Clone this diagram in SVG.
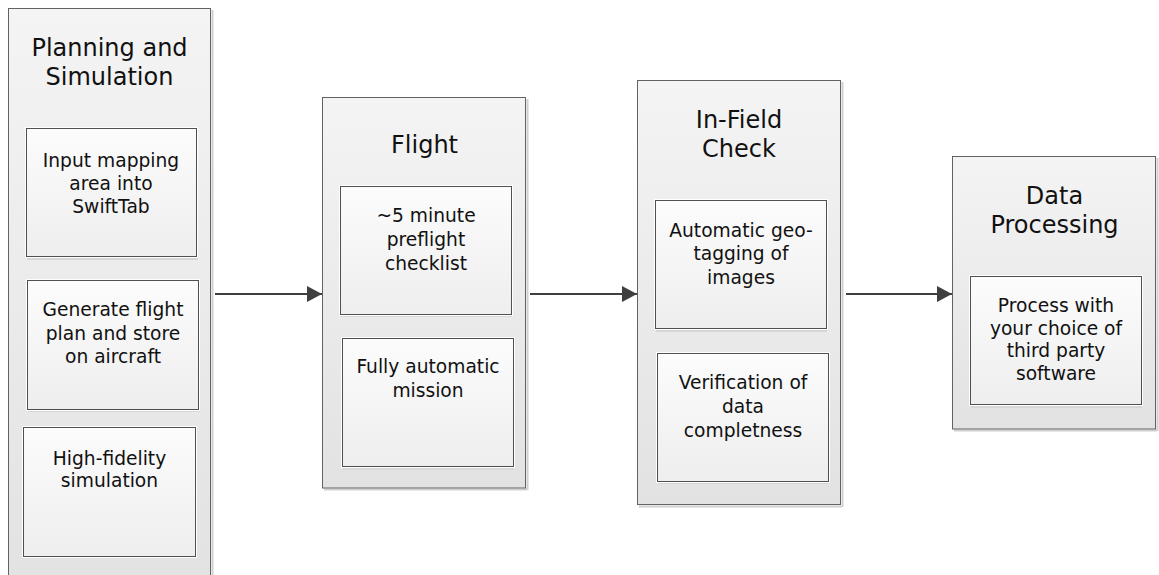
<svg xmlns="http://www.w3.org/2000/svg" width="1159" height="575" viewBox="0 0 1159 575">
  <defs>
    <linearGradient id="outerGrad" x1="0" y1="0" x2="0" y2="1">
      <stop offset="0" stop-color="#f4f4f4"/>
      <stop offset="1" stop-color="#e2e2e2"/>
    </linearGradient>
    <linearGradient id="innerGrad" x1="0" y1="0" x2="0" y2="1">
      <stop offset="0" stop-color="#fcfcfc"/>
      <stop offset="1" stop-color="#eeeeee"/>
    </linearGradient>
    <marker id="arrow" markerWidth="16" markerHeight="16" refX="15" refY="8" orient="auto" markerUnits="userSpaceOnUse">
      <path d="M0,0 L15,8 L0,16 Z" fill="#3f3f3f"/>
    </marker>
  </defs>
  <style>
    .outer { fill: url(#outerGrad); stroke: #626262; stroke-width: 1; }
    .outerShadow { fill: none; stroke: #d0d0d0; stroke-width: 2; }
    .inner { fill: url(#innerGrad); stroke: #505050; stroke-width: 1; }
    .innerHi { fill: none; stroke: #ffffff; stroke-width: 1; }
    .innerShadow { fill: none; stroke: #d6d6d6; stroke-width: 2; }
    .title { font-family: "DejaVu Sans", "Liberation Sans", sans-serif; font-size: 24px; fill: #111111; text-anchor: middle; }
    .label { font-family: "DejaVu Sans", "Liberation Sans", sans-serif; font-size: 18.67px; fill: #111111; text-anchor: middle; }
    .conn { stroke: #3f3f3f; stroke-width: 2; fill: none; }
  </style>

  <g id="planning">
    <path class="outerShadow" d="M212.5,10 V580"/>
    <rect class="outer" x="8.5" y="8.5" width="202" height="580"/>
    <text class="title" x="109.5" y="56">Planning and</text>
    <text class="title" x="109.5" y="85">Simulation</text>
    <g id="p-input">
      <path class="innerShadow" d="M27,259 H198"/>
      <rect class="innerHi" x="25.5" y="127.5" width="172" height="130"/>
      <rect class="inner" x="26.5" y="128.5" width="170" height="128"/>
      <text class="label" x="111" y="166.5">Input mapping</text>
      <text class="label" x="111" y="189.5">area into</text>
      <text class="label" x="111" y="212.5">SwiftTab</text>
    </g>
    <g id="p-generate">
      <path class="innerShadow" d="M28,411 H200"/>
      <rect class="innerHi" x="26.5" y="279.5" width="173" height="131"/>
      <rect class="inner" x="27.5" y="280.5" width="171" height="129"/>
      <text class="label" x="113" y="316">Generate flight</text>
      <text class="label" x="113" y="339.5">plan and store</text>
      <text class="label" x="113" y="363">on aircraft</text>
    </g>
    <g id="p-sim">
      <rect class="innerHi" x="22.5" y="426.5" width="174" height="131"/>
      <rect class="inner" x="23.5" y="427.5" width="172" height="129"/>
      <text class="label" x="109.5" y="464.5">High-fidelity</text>
      <text class="label" x="109.5" y="487">simulation</text>
    </g>
  </g>

  <g id="flight">
    <path class="outerShadow" d="M527.5,99 V490 M324,489.5 H527"/>
    <rect class="outer" x="322.5" y="97.5" width="203" height="390.5"/>
    <text class="title" x="424.5" y="153">Flight</text>
    <g id="f-preflight">
      <path class="innerShadow" d="M341,316 H512"/>
      <rect class="innerHi" x="339.5" y="185.5" width="173" height="130"/>
      <rect class="inner" x="340.5" y="186.5" width="171" height="128"/>
      <text class="label" x="426" y="221.5">~5 minute</text>
      <text class="label" x="426" y="245.5">preflight</text>
      <text class="label" x="426" y="269.5">checklist</text>
    </g>
    <g id="f-mission">
      <path class="innerShadow" d="M343,468.5 H514"/>
      <rect class="innerHi" x="341.5" y="337.5" width="173" height="130"/>
      <rect class="inner" x="342.5" y="338.5" width="171" height="128"/>
      <text class="label" x="428" y="373">Fully automatic</text>
      <text class="label" x="428" y="396.5">mission</text>
    </g>
  </g>

  <g id="infield">
    <path class="outerShadow" d="M842.5,82 V507 M639,506.5 H842"/>
    <rect class="outer" x="637.5" y="80.5" width="203" height="424"/>
    <text class="title" x="739" y="128">In-Field</text>
    <text class="title" x="739" y="157">Check</text>
    <g id="i-geotag">
      <path class="innerShadow" d="M656,331 H827"/>
      <rect class="innerHi" x="654.5" y="199.5" width="173" height="130"/>
      <rect class="inner" x="655.5" y="200.5" width="171" height="128"/>
      <text class="label" x="741" y="236.5">Automatic geo-</text>
      <text class="label" x="741" y="260">tagging of</text>
      <text class="label" x="741" y="283.5">images</text>
    </g>
    <g id="i-verify">
      <path class="innerShadow" d="M658,483 H829"/>
      <rect class="innerHi" x="656.5" y="352.5" width="173" height="130"/>
      <rect class="inner" x="657.5" y="353.5" width="171" height="128"/>
      <text class="label" x="743" y="389">Verification of</text>
      <text class="label" x="743" y="413">data</text>
      <text class="label" x="743" y="436.5">completness</text>
    </g>
  </g>

  <g id="dataproc">
    <path class="outerShadow" d="M1157.5,158 V431 M954,430.5 H1157"/>
    <rect class="outer" x="952.5" y="156.5" width="203" height="272.5"/>
    <text class="title" x="1054.5" y="203.5">Data</text>
    <text class="title" x="1054.5" y="232.5">Processing</text>
    <g id="d-process">
      <path class="innerShadow" d="M971,407 H1142"/>
      <rect class="innerHi" x="969.5" y="275.5" width="173" height="130"/>
      <rect class="inner" x="970.5" y="276.5" width="171" height="128"/>
      <text class="label" x="1056" y="311.5">Process with</text>
      <text class="label" x="1056" y="334.5">your choice of</text>
      <text class="label" x="1056" y="357">third party</text>
      <text class="label" x="1056" y="380">software</text>
    </g>
  </g>

  <g id="connectors">
    <line class="conn" x1="215" y1="294" x2="322" y2="294" marker-end="url(#arrow)"/>
    <line class="conn" x1="530" y1="294" x2="637" y2="294" marker-end="url(#arrow)"/>
    <line class="conn" x1="846" y1="294" x2="952" y2="294" marker-end="url(#arrow)"/>
  </g>
</svg>
